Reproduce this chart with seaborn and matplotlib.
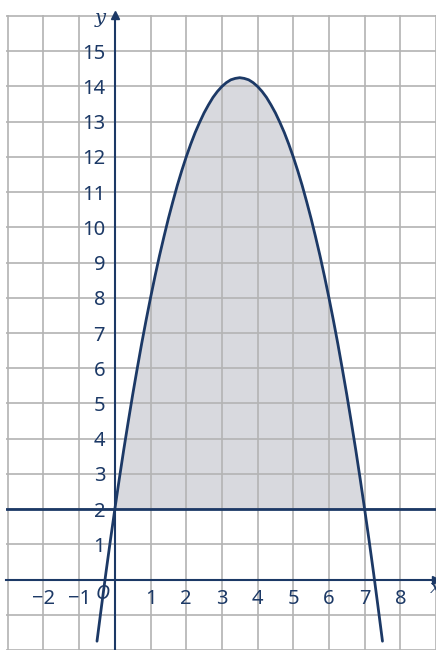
import matplotlib
matplotlib.use("Agg")
import matplotlib.pyplot as plt
import seaborn as sns
import pandas as pd

# points (x, y)
curve_x = [-0.5, -0.375, -0.25, -0.125, 0, 0.125, 0.25, 0.375, 0.5, 0.625, 0.75, 0.875,
           1, 1.125, 1.25, 1.375, 1.5, 1.625, 1.75, 1.875, 2, 2.125, 2.25, 2.375,
           2.5, 2.625, 2.75, 2.875, 3, 3.125, 3.25, 3.375, 3.5, 3.625, 3.75, 3.875,
           4, 4.125, 4.25, 4.375, 4.5, 4.625, 4.75, 4.875, 5, 5.125, 5.25, 5.375,
           5.5, 5.625, 5.75, 5.875, 6, 6.125, 6.25, 6.375, 6.5, 6.625, 6.75, 6.875,
           7, 7.125, 7.25, 7.375, 7.5]
curve_y = [-1.75, -0.77, 0.19, 1.11, 2, 2.86, 3.69, 4.48, 5.25, 5.98, 6.69, 7.36,
           8, 8.61, 9.19, 9.73, 10.25, 10.73, 11.19, 11.61, 12, 12.36, 12.69, 12.98,
           13.25, 13.48, 13.69, 13.86, 14, 14.11, 14.19, 14.23, 14.25, 14.23, 14.19, 14.11,
           14, 13.86, 13.69, 13.48, 13.25, 12.98, 12.69, 12.36, 12, 11.61, 11.19, 10.73,
           10.25, 9.73, 9.19, 8.61, 8, 7.36, 6.69, 5.98, 5.25, 4.48, 3.69, 2.86,
           2, 1.11, 0.19, -0.77, -1.75]
line_y = 2

x_ticks = [-2, -1, 1, 2, 3, 4, 5, 6, 7, 8]
y_ticks = [1, 2, 3, 4, 5, 6, 7, 8, 9, 10, 11, 12, 13, 14, 15]
grid_x = list(range(-3, 10))
grid_y = list(range(-2, 17))

navy = "#1c3966"
grid_col = "#b3b3b3"

df = pd.DataFrame({"x": curve_x, "y": curve_y})

sns.set_style("white")
plt.rcParams["font.family"] = ["Noto Sans", "DejaVu Sans"]

fig = plt.figure(figsize=(4.36, 6.5), dpi=100)
ax = fig.add_axes([6 / 436, 0, 430 / 436, 635 / 650])

# shaded region between curve and horizontal line
inside = df[(df.x >= 0) & (df.x <= 7)]
ax.fill_between(inside.x, inside.y, line_y, color="#d8d9de", zorder=1, lw=0)

sns.lineplot(data=df, x="x", y="y", color=navy, lw=2, ax=ax, zorder=4, sort=False)
ax.axhline(line_y, color=navy, lw=2, zorder=4)
ax.set_xlabel("")
ax.set_ylabel("")

ax.set_xlim(-3.05, 8.9)
ax.set_ylim(-1.8, 16.03)

ax.set_xticks(x_ticks)
ax.set_yticks(y_ticks)
ax.set_xticks(grid_x, minor=True)
ax.set_yticks(grid_y, minor=True)
ax.set_xticklabels([f"{v}".replace("-", "\u2212") for v in x_ticks], fontweight="medium")
ax.set_yticklabels([str(v) for v in y_ticks], fontweight="medium")
ax.set_axisbelow(False)
ax.grid(which="both", color=grid_col, lw=1.2, zorder=2)

for side in ["top", "right"]:
    ax.spines[side].set_visible(False)
ax.spines["left"].set_position(("data", 0))
ax.spines["bottom"].set_position(("data", 0))
for side in ["left", "bottom"]:
    ax.spines[side].set_color(navy)
    ax.spines[side].set_linewidth(1.5)
    ax.spines[side].set_zorder(3)

ax.tick_params(which="major", length=6, width=1.3, color=navy, labelcolor=navy,
               labelsize=14.5, pad=1, direction="out")
ax.tick_params(which="minor", length=0)

# axis arrows and labels
ax.plot(1, 0, ">", color=navy, ms=6, transform=ax.get_yaxis_transform(), clip_on=False, zorder=5)
ax.plot(0, 1, "^", color=navy, ms=6, transform=ax.get_xaxis_transform(), clip_on=False, zorder=5)
ax.text(-0.4, 15.95, "y", color=navy, fontsize=14, style="italic", family="DejaVu Serif",
        ha="center", va="center")
ax.text(8.98, -0.25, "x", color=navy, fontsize=14, style="italic", family="DejaVu Serif",
        ha="center", va="center")
ax.text(-0.35, -0.42, "O", color=navy, fontsize=14, style="italic", ha="center", va="center")

fig.savefig("out.png", dpi=100)
